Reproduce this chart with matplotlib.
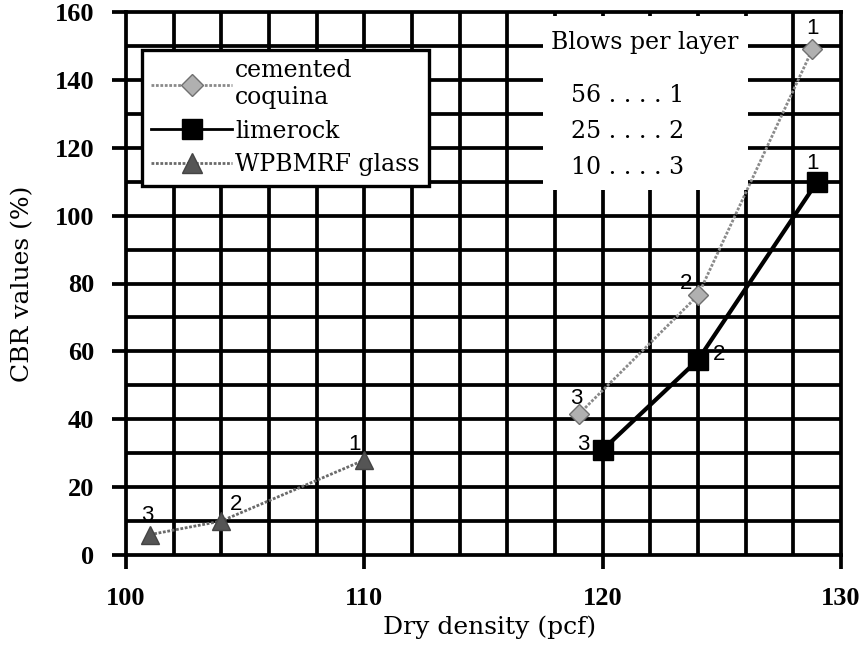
import matplotlib.pyplot as plt
from matplotlib.lines import Line2D
from matplotlib.patches import Rectangle

# data
coquina_x = [119, 124, 128.8]
coquina_y = [41.5, 76.5, 149]
limerock_x = [120, 124, 129]
limerock_y = [31, 57.5, 110]
glass_x = [101, 104, 110]
glass_y = [6, 10, 28]
blow_labels = ['3', '2', '1']

x_ticks = [100, 110, 120, 130]
y_ticks = [0, 20, 40, 60, 80, 100, 120, 140, 160]

serif = ['DejaVu Serif']
sans = ['Liberation Sans', 'DejaVu Sans']

fig = plt.figure(figsize=(8.64, 6.6), dpi=100)
ax = fig.add_axes([126 / 864, 1 - 555 / 660, (841 - 126) / 864, (555 - 12) / 660])
ax.set_xlim(100, 130)
ax.set_ylim(0, 160)

# heavy grid
for gx in range(102, 130, 2):
    ax.axvline(gx, color='black', lw=2.7, zorder=1)
for gy in range(10, 160, 10):
    ax.axhline(gy, color='black', lw=2.7, zorder=1)
for s in ax.spines.values():
    s.set_linewidth(2.7)

ax.set_xticks(x_ticks)
ax.set_yticks(y_ticks)
ax.tick_params(direction='out', length=10, width=2.7, pad=13, labelsize=19,
               labelfontfamily='Liberation Serif')
for lab in ax.get_xticklabels() + ax.get_yticklabels():
    lab.set_fontweight('bold')
ax.set_xlabel('Dry density (pcf)', family=serif, fontsize=18)
ax.xaxis.set_label_coords(0.509, -0.112)
ax.set_ylabel('CBR values (%)', family=serif, fontsize=18)
ax.yaxis.set_label_coords(-0.128, 0.5)

# white patch behind blows text
ax.add_patch(Rectangle(((543 - 126) / 715, (555 - 190) / 543), (748 - 543) / 715, (190 - 16) / 543,
                       transform=ax.transAxes, facecolor='white', edgecolor='none', zorder=2))

ax.plot(coquina_x, coquina_y, color='#8a8a8a', lw=2, ls=(0, (1, 0.6)), marker='D', ms=10,
        mfc='#b0b0b0', mec='#707070', zorder=4)
ax.plot(limerock_x, limerock_y, color='black', lw=3, marker='s', ms=14, mfc='black', mec='black', zorder=5)
ax.plot(glass_x, glass_y, color='#6a6a6a', lw=2, ls=(0, (1, 0.6)), marker='^', ms=13,
        mfc='#555555', mec='#444444', zorder=4)

# point labels
off_coq = [(-0.1, 4.5), (-0.5, 3.5), (0, 6)]
off_lim = [(-0.8, 1.5), (0.9, 1.5), (-0.2, 5.5)]
off_gla = [(-0.1, 5.5), (0.6, 5), (-0.4, 4.5)]
for xs, ys, offs in [(coquina_x, coquina_y, off_coq), (limerock_x, limerock_y, off_lim), (glass_x, glass_y, off_gla)]:
    for x, y, lab, (dx, dy) in zip(xs, ys, blow_labels, offs):
        ax.text(x + dx, y + dy, lab, family=sans, fontsize=16, ha='center', va='center', zorder=6)

# legend
handles = [
    Line2D([], [], color='#8a8a8a', lw=2, ls=(0, (1, 0.6)), marker='D', ms=11, mfc='#b0b0b0', mec='#707070'),
    Line2D([], [], color='black', lw=2, marker='s', ms=14, mfc='black'),
    Line2D([], [], color='#6a6a6a', lw=2, ls=(0, (1, 0.6)), marker='^', ms=14, mfc='#555555', mec='#444444'),
]
leg = ax.legend(handles, ['cemented\ncoquina', 'limerock', 'WPBMRF glass'],
                loc='upper left', bbox_to_anchor=((142 - 126) / 715, (555 - 50) / 543),
                prop={'family': serif, 'size': 17}, frameon=True, fancybox=False,
                edgecolor='black', framealpha=1, handlelength=3.4, handletextpad=0.15,
                labelspacing=0.45, borderpad=0.4, borderaxespad=0)
leg.get_frame().set_linewidth(2.4)
leg.set_zorder(7)

# blows per layer note
ax.text((645 - 126) / 715, (555 - 42) / 543, 'Blows per layer', transform=ax.transAxes, family=serif,
        fontsize=17, ha='center', va='center', zorder=6)
for i, s in enumerate(['56 . . . . 1', '25 . . . . 2', '10 . . . . 3']):
    ax.text((628 - 126) / 715, (555 - (95 + i * 36.5)) / 543, s, transform=ax.transAxes, family=serif,
            fontsize=17, ha='center', va='center', zorder=6)

fig.savefig('out.png', dpi=100)
